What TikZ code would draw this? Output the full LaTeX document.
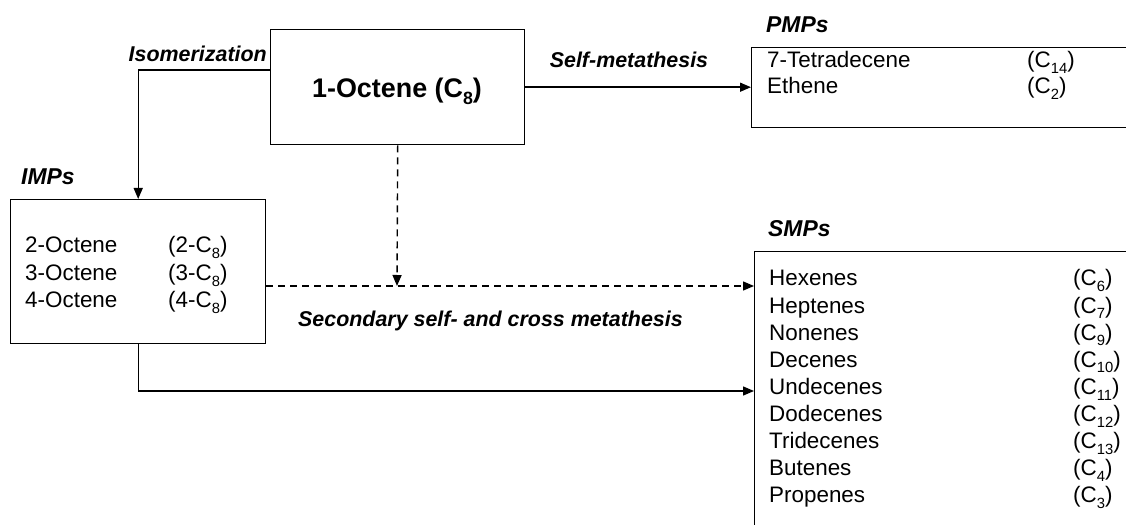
\documentclass[tikz,border=0pt]{standalone}
\usepackage{fontspec}
\setmainfont{Liberation Sans}
\usetikzlibrary{arrows.meta,positioning}
\newcommand{\chemsub}[1]{\raisebox{-0.25em}{\scalebox{0.66}{#1}}}

\tikzset{
  box/.style={draw, line width=1.4bp, anchor=north west, inner sep=0pt},
  arrow/.style={-{Triangle[length=11bp,width=9bp]}, line width=1.4bp},
  dasharrow/.style={arrow, dash pattern=on 7bp off 5bp},
  item/.style={font=\fontsize{22.5}{27}\selectfont, inner sep=0pt, anchor=base west},
  route/.style={font=\fontsize{21.5}{26}\selectfont\bfseries\itshape, inner sep=0pt},
  group/.style={font=\fontsize{23}{28}\selectfont\bfseries\itshape, inner sep=0pt, anchor=base west},
}

\begin{document}
\begin{tikzpicture}[x=1bp, y=-1bp]
  \useasboundingbox (0,0) rectangle (1126,525);
  \clip (0,0) rectangle (1126,525);

  % Feed
  \node[box, minimum width=254bp, minimum height=115bp] (oct) at (270,29) {};
  \node[inner sep=0pt, anchor=base, font=\fontsize{27}{32}\selectfont\bfseries] (octtxt) at (397,98)
    {1-Octene (C\chemsub{8})};

  % Product boxes
  \node[box, minimum width=400bp, minimum height=80bp] (pmp) at (751,47) {};
  \node[box, minimum width=255bp, minimum height=144bp] (imp) at (10,199) {};
  \node[box, minimum width=400bp, minimum height=320bp] (smp) at (754,251) {};

  % Group headings
  \node[group] (pmphead) at (766,33) {PMPs};
  \node[group] (imphead) at (21,185) {IMPs};
  \node[group] (smphead) at (768,237) {SMPs};

  % Box contents
  \foreach \nm/\cf [count=\i from 0] in {7-Tetradecene/14, Ethene/2} {
    \node[item] (pmpname\i) at (767,{68+25.5*\i}) {\nm};
    \node[item] (pmpform\i) at (1027,{68+25.5*\i}) {(C\chemsub{\cf})};
  }
  \foreach \k [count=\i from 0] in {2,3,4} {
    \node[item] (impname\i) at (25,{253+27.5*\i}) {\k-Octene};
    \node[item] (impform\i) at (168,{253+27.5*\i}) {(\k-C\chemsub{8})};
  }
  \foreach \nm/\cf [count=\i from 0] in {Hexenes/6, Heptenes/7, Nonenes/9, Decenes/10,
      Undecenes/11, Dodecenes/12, Tridecenes/13, Butenes/4, Propenes/3} {
    \node[item] (smpname\i) at (769,{286+27.1*\i}) {\nm};
    \node[item] (smpform\i) at (1073,{286+27.1*\i}) {(C\chemsub{\cf})};
  }

  % Connectors
  \coordinate (isostart) at (270,70);
  \coordinate (meet) at (397,286);
  \coordinate (undec) at (754,391);
  \draw[arrow] (oct.east) -- (oct.east -| pmp.west);
  \draw[arrow] (isostart) -| (imp.north);
  \draw[dasharrow] (oct.south) -- (meet);
  \draw[dasharrow] (imp.east |- meet) -- (smp.west |- meet);
  \draw[arrow] (imp.south) |- (undec);

  % Route labels
  \node[route, anchor=base] (selflbl) at (629,68) {Self-metathesis};
  \node[route, anchor=base east] (isolbl) at (267,62) {Isomerization};
  \node[route, anchor=base west] (seclbl) at (298,327) {Secondary self- and cross metathesis};
\end{tikzpicture}
\end{document}
